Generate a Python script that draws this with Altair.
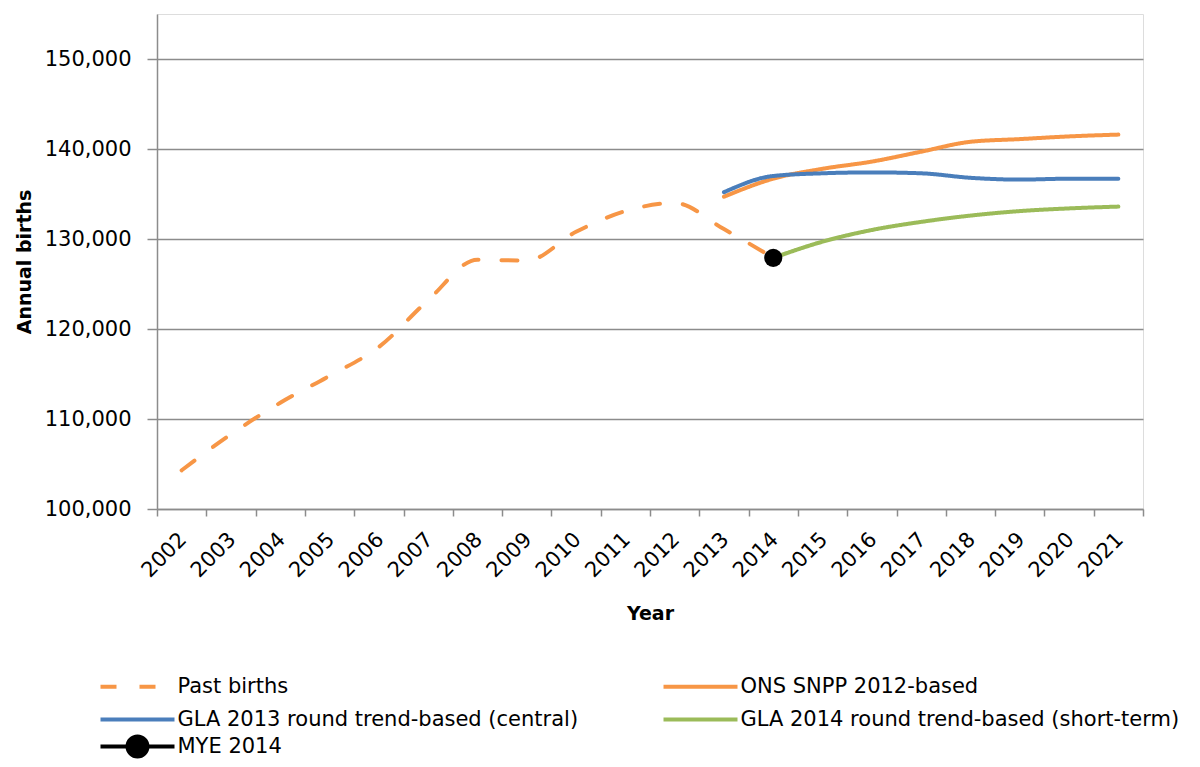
import altair as alt
import pandas as pd

# ---- data ----
past_years = [2002, 2003, 2004, 2005, 2006, 2007, 2008, 2009, 2010, 2011, 2012, 2013, 2014]
past_births = [104300, 108300, 111800, 114800, 118000, 123200, 127700, 127600, 130800, 133100, 134000, 131100, 127900]

ons_years = [2013, 2014, 2015, 2016, 2017, 2018, 2019, 2020, 2021]
ons_births = [134700, 136700, 137800, 138600, 139700, 140800, 141100, 141400, 141600]

gla13_years = [2013, 2014, 2015, 2016, 2017, 2018, 2019, 2020, 2021]
gla13_births = [135200, 137000, 137300, 137400, 137300, 136800, 136600, 136700, 136700]

gla14_years = [2014, 2015, 2016, 2017, 2018, 2019, 2020, 2021]
gla14_births = [127900, 129700, 131000, 131900, 132600, 133100, 133400, 133600]

mye_years = [2014]
mye_births = [127900]
mye_label = ["MYE 2014"]

series_names = [
    "Past births",
    "ONS SNPP 2012-based",
    "GLA 2013 round trend-based (central)",
    "GLA 2014 round trend-based (short-term)",
]
series_colors = ["#F79646", "#F79646", "#4A7EBB", "#9BBB59"]
series_dash = [[16, 23], [1, 0], [1, 0], [1, 0]]

y_ticks = [100000, 110000, 120000, 130000, 140000, 150000]
category_years = list(range(2002, 2022))

rows = []
for name, ys, vs in [
    (series_names[0], past_years, past_births),
    (series_names[1], ons_years, ons_births),
    (series_names[2], gla13_years, gla13_births),
    (series_names[3], gla14_years, gla14_births),
]:
    for y, v in zip(ys, vs):
        rows.append({"year": y, "births": v, "series": name})
df = pd.DataFrame(rows)
mye_df = pd.DataFrame({"year": mye_years, "births": mye_births, "label": mye_label})

boundaries = [y - 0.5 for y in category_years] + [category_years[-1] + 0.5]

FONT = "DejaVu Sans"
GRID = "#8C8C8C"

x_enc = alt.X(
    "year:Q",
    scale=alt.Scale(domain=[boundaries[0], boundaries[-1]], nice=False, zero=False),
    axis=alt.Axis(
        title="Year",
        values=boundaries,
        labelExpr="datum.value < 2021 ? format(datum.value + 0.5, 'd') : ''",
        labelAngle=-45,
        labelAlign="right",
        labelBaseline="middle",
        labelOffset=26,
        labelPadding=20,
        labelBound=False,
        grid=False,
        tickSize=7,
        tickColor=GRID,
        tickWidth=1.5,
        domainColor=GRID,
        domainWidth=1.5,
        labelFont=FONT,
        labelFontSize=21,
        labelColor="#000000",
        labelOverlap=False,
        titleFont=FONT,
        titleFontSize=19,
        titleFontWeight="bold",
        titleColor="#000000",
        titlePadding=24,
    ),
)
y_enc = alt.Y(
    "births:Q",
    scale=alt.Scale(domain=[100000, 155000], nice=False, zero=False),
    axis=alt.Axis(
        title="Annual births",
        values=y_ticks,
        format=",d",
        grid=True,
        gridColor=GRID,
        gridWidth=1.5,
        tickSize=10,
        tickColor=GRID,
        tickWidth=1.5,
        domainColor=GRID,
        domainWidth=1.5,
        labelFont=FONT,
        labelFontSize=21,
        labelColor="#000000",
        labelPadding=16,
        titleFont=FONT,
        titleFontSize=19,
        titleFontWeight="bold",
        titleColor="#000000",
        titlePadding=10,
    ),
)

R = 18.5  # legend symbol half unit (path spans -2R..2R)
line_path = "M-2,0L2,0"
mye_path = "M-2,0L2,0M-0.54,0A0.54,0.54,0,1,1,0.54,0A0.54,0.54,0,1,1,-0.54,0Z"

legend_common = dict(
    title=None,
    orient="none",
    symbolSize=(2 * R) ** 2,
    symbolStrokeWidth=4,
    labelOffset=R + 1,
    labelFont=FONT,
    labelFontSize=21,
    labelColor="#000000",
    labelLimit=600,
    symbolOffset=0,
    rowPadding=2,
)

LX = -40
LY = 652

line_legend = alt.Legend(
    legendX=LX,
    legendY=LY,
    columns=2,
    direction="horizontal",
    columnPadding=76,
    symbolType=line_path,
    **legend_common,
)

lines = alt.Chart(df).mark_line(strokeWidth=4, strokeCap="round", interpolate="monotone").encode(
    x=x_enc,
    y=y_enc,
    color=alt.Color(
        "series:N",
        scale=alt.Scale(domain=series_names, range=series_colors),
        legend=line_legend,
    ),
    strokeDash=alt.StrokeDash(
        "series:N",
        scale=alt.Scale(domain=series_names, range=series_dash),
        legend=line_legend,
    ),
    order=alt.Order("year:Q"),
)

points = alt.Chart(mye_df).mark_point(filled=True, size=330, opacity=1).encode(
    x="year:Q",
    y="births:Q",
    fill=alt.Fill(
        "label:N",
        scale=alt.Scale(domain=mye_label, range=["#000000"]),
        legend=alt.Legend(
            legendX=LX,
            legendY=LY + 60,
            symbolType=mye_path,
            symbolStrokeColor="#000000",
            symbolFillColor="#000000",
            symbolOpacity=1,
            **legend_common,
        ),
    ),
)

chart = (
    alt.layer(lines, points)
    .properties(
        width=986,
        height=495,
        autosize=alt.AutoSizeParams(type="none"),
        padding={"left": 149, "top": 6, "right": 45, "bottom": 250},
    )
    .configure_view(stroke=None)
    .configure(background="white")
)

chart.save("out.html", embed_options={"renderer": "svg", "actions": False})
